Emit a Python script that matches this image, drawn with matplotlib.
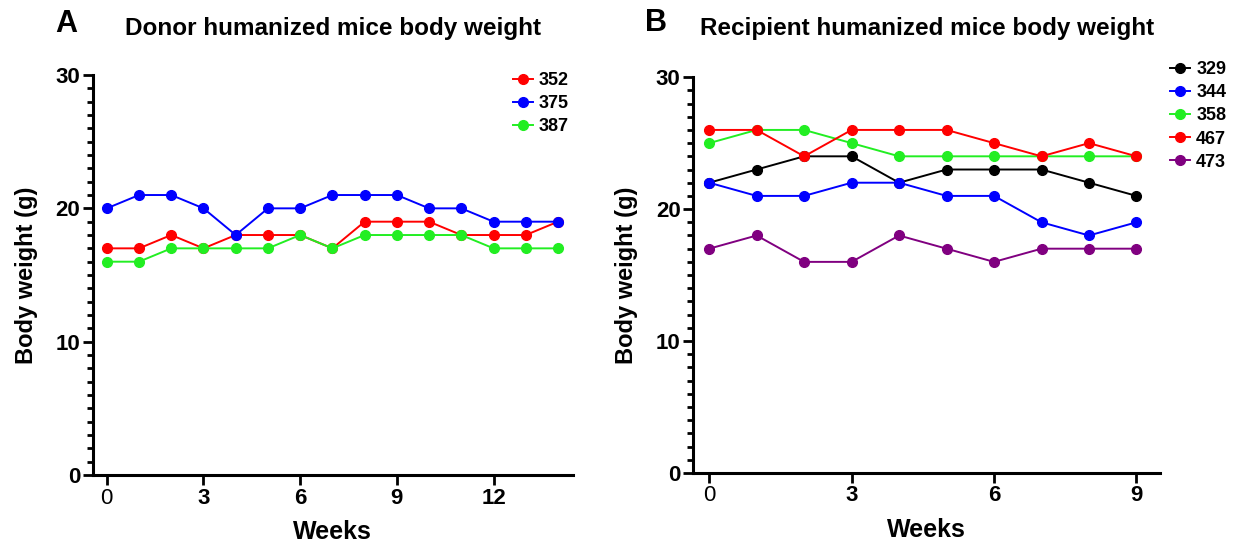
import matplotlib
matplotlib.use('Agg')
import matplotlib.pyplot as plt
from matplotlib.ticker import MultipleLocator

plt.rcParams['font.family'] = ['Liberation Sans', 'DejaVu Sans']

# panel A - donor mice
weeks_a = list(range(15))
donor_ids = ['352', '375', '387']
m352 = [17, 17, 18, 17, 18, 18, 18, 17, 19, 19, 19, 18, 18, 18, 19]
m375 = [20, 21, 21, 20, 18, 20, 20, 21, 21, 21, 20, 20, 19, 19, 19]
m387 = [16, 16, 17, 17, 17, 17, 18, 17, 18, 18, 18, 18, 17, 17, 17]
donor_colors = ['#ff0000', '#0000ff', '#22ee22']

# panel B - recipient mice
weeks_b = list(range(10))
recip_ids = ['329', '344', '358', '467', '473']
m329 = [22, 23, 24, 24, 22, 23, 23, 23, 22, 21]
m344 = [22, 21, 21, 22, 22, 21, 21, 19, 18, 19]
m358 = [25, 26, 26, 25, 24, 24, 24, 24, 24, 24]
m467 = [26, 26, 24, 26, 26, 26, 25, 24, 25, 24]
m473 = [17, 18, 16, 16, 18, 17, 16, 17, 17, 17]
recip_colors = ['#000000', '#0000ff', '#22ee22', '#ff0000', '#800080']


def style_axis(ax, xticks, xlim):
    for s in ['top', 'right']:
        ax.spines[s].set_visible(False)
    for s in ['left', 'bottom']:
        ax.spines[s].set_linewidth(2.2)
    ax.set_ylim(0, 30)
    ax.set_xlim(*xlim)
    ax.set_yticks([0, 10, 20, 30])
    ax.yaxis.set_minor_locator(MultipleLocator(1))
    ax.set_xticks(xticks)
    ax.tick_params(axis='both', which='major', direction='out', length=7, width=2, labelsize=16, pad=2)
    ax.tick_params(axis='y', which='minor', direction='out', length=4.5, width=2)
    for lab in ax.get_yticklabels():
        lab.set_fontweight('bold')
    for lab in ax.get_xticklabels():
        lab.set_fontweight('bold')
    ax.get_xticklabels()[0].set_fontweight('normal')
    ax.set_xlabel('Weeks', fontsize=18, fontweight='bold', labelpad=8)
    ax.set_ylabel('Body weight (g)', fontsize=17, fontweight='bold', labelpad=13)


fig = plt.figure(figsize=(12.36, 5.46), dpi=100)
axA = fig.add_axes([0.0752, 0.130, 0.388, 0.7326])
axB = fig.add_axes([0.5607, 0.1337, 0.378, 0.725])

for ys, c, name in zip([m352, m375, m387], donor_colors, donor_ids):
    axA.plot(weeks_a, ys, '-o', color=c, lw=1.4, ms=7, label=name, clip_on=False)
style_axis(axA, [0, 3, 6, 9, 12], (-0.43, 14.45))
axA.set_title('Donor humanized mice body weight', fontsize=17.5, fontweight='bold', pad=29)
axA.legend(loc='upper left', bbox_to_anchor=(0.415, 0.868), bbox_transform=fig.transFigure,
           frameon=False, prop={'weight': 'bold', 'size': 13}, handlelength=1.1,
           handletextpad=0.35, labelspacing=0.34, borderpad=0, borderaxespad=0)

for ys, c, name in zip([m329, m344, m358, m467, m473], recip_colors, recip_ids):
    axB.plot(weeks_b, ys, '-o', color=c, lw=1.4, ms=7, label=name, clip_on=False)
style_axis(axB, [0, 3, 6, 9], (-0.34, 9.5))
axB.set_title('Recipient humanized mice body weight', fontsize=17.5, fontweight='bold', pad=30)
axB.legend(loc='upper left', bbox_to_anchor=(0.9466, 0.888), bbox_transform=fig.transFigure,
           frameon=False, prop={'weight': 'bold', 'size': 13}, handlelength=1.1,
           handletextpad=0.35, labelspacing=0.34, borderpad=0, borderaxespad=0)

fig.text(0.0445, 0.941, 'A', fontsize=22, fontweight='bold')
fig.text(0.522, 0.943, 'B', fontsize=22, fontweight='bold')

fig.savefig('out.png', dpi=100)
